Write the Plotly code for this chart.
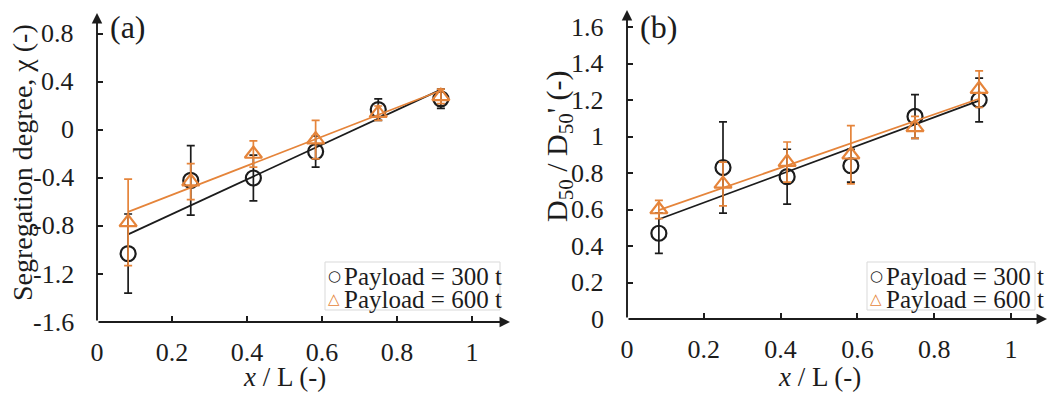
import numpy as np
import plotly.graph_objects as go

# Normalised position along the pile (segment centres)
x_pos = [0.083, 0.25, 0.417, 0.583, 0.75, 0.917]

# (a) Segregation degree, chi
chi_300 = [-1.03, -0.42, -0.40, -0.18, 0.17, 0.26]
chi_300_err = [0.33, 0.29, 0.19, 0.13, 0.09, 0.08]
chi_600 = [-0.77, -0.43, -0.20, -0.08, 0.14, 0.28]
chi_600_err = [0.36, 0.15, 0.11, 0.16, 0.06, 0.06]

# (b) Normalised median particle size D50 / D50'
d50_300 = [0.47, 0.83, 0.78, 0.84, 1.11, 1.20]
d50_300_err = [0.11, 0.25, 0.15, 0.09, 0.12, 0.12]
d50_600 = [0.60, 0.74, 0.86, 0.90, 1.05, 1.26]
d50_600_err = [0.05, 0.12, 0.11, 0.16, 0.06, 0.10]

series_names = ["Payload = 300 t", "Payload = 600 t"]

x_ticks = [0, 0.2, 0.4, 0.6, 0.8, 1]
x_ticktext = ["0", "0.2", "0.4", "0.6", "0.8", "1"]
chi_ticks = [-1.6, -1.2, -0.8, -0.4, 0, 0.4, 0.8]
chi_ticktext = ["-1.6", "-1.2", "-0.8", "-0.4", "0", "0.4", "0.8"]
d50_ticks = [0, 0.2, 0.4, 0.6, 0.8, 1, 1.2, 1.4, 1.6]
d50_ticktext = ["0", "0.2", "0.4", "0.6", "0.8", "1", "1.2", "1.4", "1.6"]

BLACK = "#1c1c1c"
ORANGE = "#E5843A"
FONT = "Liberation Serif, Times New Roman, Times, serif"
W, H = 1052, 395

fig = go.Figure()


def add_panel(xa, ya, y300, e300, y600, e600):
    for ys, es, color, symbol in [
        (y300, e300, BLACK, "circle-open"),
        (y600, e600, ORANGE, "triangle-up-open"),
    ]:
        # linear trend line through the measurements
        k, b = np.polyfit(x_pos, ys, 1)
        xs = np.array([x_pos[0], x_pos[-1]])
        fig.add_trace(go.Scatter(
            x=xs, y=k * xs + b, mode="lines", xaxis=xa, yaxis=ya,
            line=dict(color=color, width=1.7), showlegend=False, hoverinfo="skip",
        ))
        fig.add_trace(go.Scatter(
            x=x_pos, y=ys, mode="markers", xaxis=xa, yaxis=ya,
            marker=dict(symbol=symbol, size=15, color=color, line=dict(width=2.2, color=color)),
            error_y=dict(type="data", array=es, visible=True, color=color,
                         thickness=1.7, width=4),
            showlegend=False,
        ))


add_panel("x", "y", chi_300, chi_300_err, chi_600, chi_600_err)
add_panel("x2", "y2", d50_300, d50_300_err, d50_600, d50_600_err)

# pixel layout of the two plot areas
a_left, a_right, a_top, a_bot = 97, 510, 13, 322
b_left, b_right, b_top, b_bot = 627, 1047, 10, 319
a_xr = [0, (a_right - a_left) / 375.0]
b_xr = [0, (b_right - b_left) / 384.0]
a_yr = [-1.6, -1.6 + (a_bot - a_top) / 120.0]
b_yr = [0, (b_bot - b_top) / 182.5]

axis_common = dict(
    showgrid=False, zeroline=False, showline=False, automargin=False,
    ticks="inside", ticklen=6, tickwidth=1.7, tickcolor=BLACK,
    tickfont=dict(family=FONT, size=26, color=BLACK),
    tickmode="array",
)

fig.update_layout(
    width=W, height=H, autosize=False,
    margin=dict(l=0, r=0, t=0, b=0, pad=0),
    paper_bgcolor="white", plot_bgcolor="white",
    showlegend=False,
    xaxis=dict(domain=[a_left / W, a_right / W], range=a_xr, anchor="y",
               tickvals=x_ticks, ticktext=x_ticktext, ticklabelstandoff=12, **axis_common),
    yaxis=dict(domain=[1 - a_bot / H, 1 - a_top / H], range=a_yr, anchor="x",
               tickvals=chi_ticks, showticklabels=False, **axis_common),
    xaxis2=dict(domain=[b_left / W, b_right / W], range=b_xr, anchor="y2",
                tickvals=x_ticks, ticktext=x_ticktext, ticklabelstandoff=12, **axis_common),
    yaxis2=dict(domain=[1 - b_bot / H, 1 - b_top / H], range=b_yr, anchor="x2",
                tickvals=d50_ticks, showticklabels=False, **axis_common),
)

annotations = []
# axis lines ending in arrowheads
for xr, yr, xref, yref in [(a_xr, a_yr, "x", "y"), (b_xr, b_yr, "x2", "y2")]:
    for tip, tail in [((xr[1], yr[0]), (xr[0], yr[0])), ((xr[0], yr[1]), (xr[0], yr[0]))]:
        annotations.append(dict(
            x=tip[0], y=tip[1], ax=tail[0], ay=tail[1], xref=xref, yref=yref,
            axref=xref, ayref=yref, text="", showarrow=True,
            arrowhead=2, arrowsize=1.1, arrowwidth=1.9, arrowcolor=BLACK,
        ))

# y tick labels, right-aligned a fixed distance left of each axis
for yref, vals, texts, right_px in [
    ("y", chi_ticks, chi_ticktext, 76),
    ("y2", d50_ticks, d50_ticktext, 606),
]:
    for v, t in zip(vals, texts):
        annotations.append(dict(
            x=right_px / W, xref="paper", y=v, yref=yref, showarrow=False,
            text=t, font=dict(family=FONT, size=26, color=BLACK),
            xanchor="right", yanchor="middle",
        ))

# y axis titles
for text, cx, cy, size in [
    ("Segregation degree, χ (-)", 22, 163, 28),
    ("D<sub>50</sub> / D<sub>50</sub>' (-)", 559, 146, 30),
]:
    annotations.append(dict(
        x=cx / W, xref="paper", y=1 - cy / H, yref="paper", showarrow=False,
        text=text, textangle=-90, font=dict(family=FONT, size=size, color=BLACK),
        xanchor="center", yanchor="middle",
    ))

# x axis titles and panel labels
for xref, label, lx in [("x", "(a)", 108 / W), ("x2", "(b)", 638 / W)]:
    annotations.append(dict(
        x=0.5, xref=xref, y=1 - 377 / H, yref="paper", showarrow=False,
        text="<i>x</i> / L (-)", font=dict(family=FONT, size=27, color=BLACK),
        xanchor="center", yanchor="middle",
    ))
    annotations.append(dict(
        x=lx, xref="paper", y=1 - 27 / H, yref="paper", showarrow=False,
        text=label, font=dict(family=FONT, size=32, color=BLACK),
        xanchor="left", yanchor="middle",
    ))

# legend boxes
shapes = []
for bx0, bx1 in [(325, 500), (867, 1035)]:
    shapes.append(dict(
        type="rect", xref="paper", yref="paper",
        x0=bx0 / W, x1=bx1 / W, y0=1 - 310 / H, y1=1 - 262 / H,
        line=dict(color="#d9d9d9", width=1), fillcolor="white", layer="above",
    ))
    for row, (name, glyph, color) in enumerate(
        zip(series_names, ["○", "△"], [BLACK, ORANGE])
    ):
        yc = 1 - (276 + 23 * row) / H
        annotations.append(dict(
            x=(bx0 + 9) / W, xref="paper", y=yc, yref="paper", showarrow=False,
            text=glyph, font=dict(family="DejaVu Sans", size=15, color=color),
            xanchor="center", yanchor="middle",
        ))
        annotations.append(dict(
            x=(bx0 + 17) / W, xref="paper", y=yc, yref="paper", showarrow=False,
            text=name, font=dict(family=FONT, size=25, color=BLACK),
            xanchor="left", yanchor="middle",
        ))

fig.update_layout(annotations=annotations, shapes=shapes)
fig.write_html("out.html")
